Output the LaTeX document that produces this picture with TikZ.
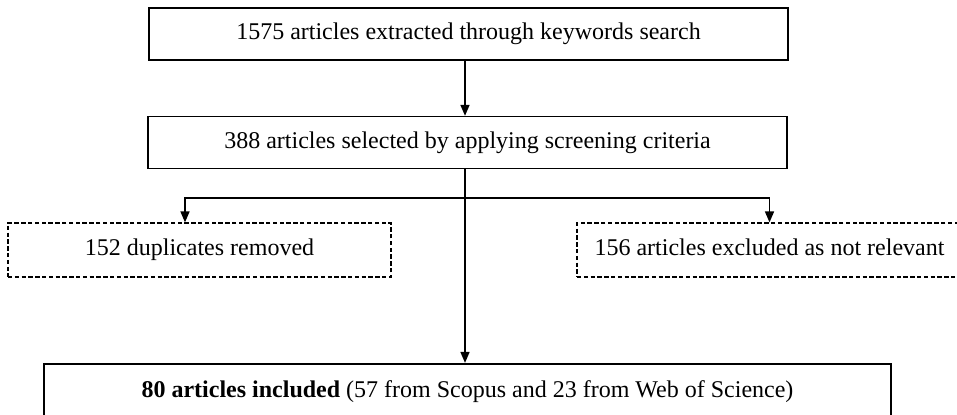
\documentclass[tikz,border=0pt]{standalone}
\usepackage{fontspec}
\setmainfont{Liberation Serif}
\usepackage{tikz}
\usetikzlibrary{positioning,arrows.meta}

\begin{document}
\begin{tikzpicture}[x=0.5pt,y=-0.5pt,
  font=\fontsize{12}{14}\selectfont,
  stagebox/.style={rectangle,draw,line width=0.65pt,minimum height=26pt,inner sep=0pt,text height=8.5pt,text depth=2.5pt},
  dropbox/.style={rectangle,draw,line width=0.6pt,dash pattern=on 2.2pt off 1.2pt,minimum height=27pt,inner sep=0pt,text height=8.5pt,text depth=2.5pt},
  flow/.style={line width=0.8pt,-{Triangle[length=5.5pt,width=4.5pt]}}]
\useasboundingbox (0,0) rectangle (957,415);

\node[stagebox,minimum width=319.5pt] (search) at (468.5,34) {1575 articles extracted through keywords search} ;
\node[stagebox,minimum width=319.5pt] (screen) at (467.5,142.5) {388 articles selected by applying screening criteria} ;
\node[dropbox,minimum width=191.5pt] (dup) at (199.5,250) {152 duplicates removed} ;
\node[dropbox,minimum width=192.5pt] (excl) at (769.5,250) {156 articles excluded as not relevant} ;
\node[stagebox,line width=1.1pt,minimum width=423.5pt,minimum height=28pt] (incl) at (467.5,392) {\textbf{80 articles included} (57 from Scopus and 23 from Web of Science)} ;

\coordinate (split) at (465,198) ;

\draw[flow] (search.south -| split) -- (screen.north -| split) ;
\draw[line width=0.8pt] (screen.south -| split) -- (split) ;
\draw[flow] (split) -| ([xshift=-7.25pt]dup.north) ;
\draw[flow] (split) -| (excl.north) ;
\draw[flow] (split) -- (incl.north -| split) ;

\end{tikzpicture}
\end{document}
